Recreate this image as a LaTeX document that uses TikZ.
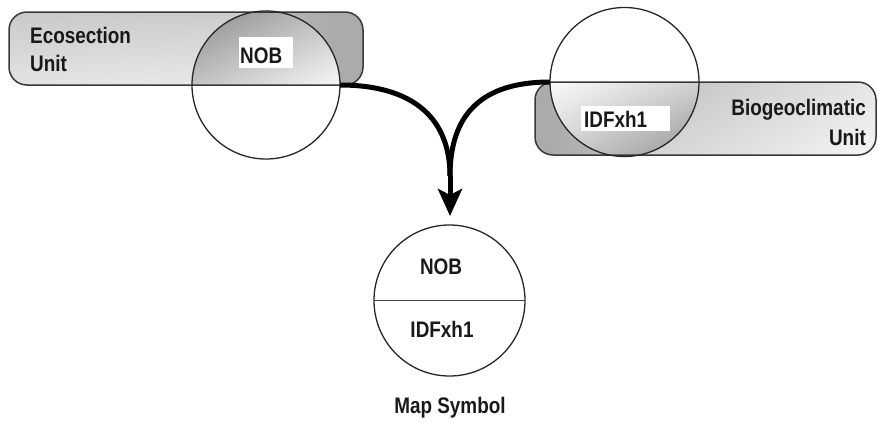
\documentclass[tikz,border=0pt]{standalone}
\usepackage{fontspec}
\usetikzlibrary{arrows.meta,shadings}
\newfontfamily\lblfont{Liberation Sans}[FakeStretch=0.84]

% horizontal base fills of the two unit bars
\pgfdeclarehorizontalshading{ecofill}{100bp}{color(0bp)=(black!16); color(25bp)=(black!16); color(51bp)=(black!20); color(66bp)=(black!30); color(71bp)=(black!33); color(100bp)=(black!33)}
\pgfdeclarehorizontalshading{bgcfill}{100bp}{color(0bp)=(black!33); color(27bp)=(black!33); color(32bp)=(black!30); color(49bp)=(black!22); color(75bp)=(black!6); color(100bp)=(black!6)}

\tikzset{
  lbl/.style={font=\lblfont\bfseries\fontsize{22.5}{28}\selectfont, inner sep=0pt, text=black!90},
  bar/.style={rectangle, rounded corners=18pt, inner sep=0pt, outer sep=0pt},
  barline/.style={draw=black!78, line width=1.5pt, rounded corners=18pt},
  ring/.style={circle, inner sep=0pt, outer sep=0pt},
  ringline/.style={draw=black!85, line width=1.3pt},
  tagbox/.style={fill=white, inner sep=0pt, outer sep=0pt},
  flow/.style={line width=5pt, black}
}

\begin{document}
\begin{tikzpicture}[x=1pt, y=-1pt]
\useasboundingbox (0,0) rectangle (878,421);

% circles and bars (placed first, drawn below)
\node[ring, minimum size=148pt] (ecoC) at (266,85) {};
\node[ring, minimum size=149pt] (bgcC) at (624.5,82) {};
\node[ring, minimum size=151pt] (mapC) at (449.5,300.5) {};

\node[bar, shade, shading=ecofill, minimum width=354pt, minimum height=73pt] (ecoR) at (186,48.5) {};
\node[bar, shade, shading=bgcfill, minimum width=341pt, minimum height=73pt] (bgcR) at (705.5,118.5) {};

% diagonal fill of the open part of each bar
\begin{scope}
  \clip[rounded corners=18pt] (ecoR.south west) rectangle (ecoR.north east);
  \shade[upper left=black!21, upper right=black!20, lower left=black!11, lower right=black!8]
    (ecoR.north west) rectangle (ecoC.center |- ecoR.south);
\end{scope}
\begin{scope}
  \clip[rounded corners=18pt] (bgcR.south west) rectangle (bgcR.north east);
  \shade[upper left=black!26, upper right=black!10, lower left=black!18, lower right=black!4]
    (bgcC.center |- bgcR.north) rectangle (bgcR.south east);
\end{scope}

% lens shading where circle and bar overlap
\begin{scope}
  \clip[rounded corners=18pt] (ecoR.south west) rectangle (ecoR.north east);
  \clip (ecoC.center) circle[radius=74pt];
  \shade[upper left=black!45, upper right=black!24, lower left=black!24, lower right=black!3]
    (ecoC.west |- ecoC.north) rectangle (ecoC.east);
\end{scope}
\begin{scope}
  \clip[rounded corners=18pt] (bgcR.south west) rectangle (bgcR.north east);
  \clip (bgcC.center) circle[radius=74.5pt];
  \shade[upper left=black!2, upper right=black!18, lower left=black!18, lower right=black!42]
    (bgcC.west) rectangle (bgcC.east |- bgcC.south);
\end{scope}

% outlines
\draw[barline] (ecoR.south west) rectangle (ecoR.north east);
\draw[barline] (bgcR.south west) rectangle (bgcR.north east);
\draw[ringline] (ecoC.center) circle[radius=74pt];
\draw[ringline] (bgcC.center) circle[radius=74.5pt];
\draw[ringline] (mapC.center) circle[radius=75.5pt];
\draw[draw=black!75, line width=1.5pt] (mapC.west) -- (mapC.east);

% white tag boxes
\node[tagbox, minimum width=54pt, minimum height=31pt] (nobBox) at (266,52.5) {};
\node[tagbox, minimum width=89pt, minimum height=25pt] (idfBox) at (625.5,118) {};

% labels
\node[lbl, align=left, anchor=north west] (ecoT) at (30,27.4) {Ecosection\\Unit};
\node[lbl, font=\lblfont\bfseries\fontsize{22.5}{30}\selectfont, align=right, anchor=north east] (bgcT) at (866,98.9) {Biogeoclimatic\\Unit};
\node[lbl, anchor=base west] (nobT) at (240,63.5) {NOB};
\node[lbl, anchor=base west] (idfT) at (584,127) {IDFxh1};
\node[lbl, anchor=base] (mapNob) at (441,274) {NOB};
\node[lbl, anchor=base] (mapIdf) at (442,337) {IDFxh1};
\node[lbl, anchor=base] (mapT) at (450,413.5) {Map Symbol};

% merging arrows
\coordinate (join) at (450,176);
\coordinate (tip) at (450,216);
\draw[flow] (ecoC.east) .. controls +(68,0) and +(0,-62) .. (join);
\draw[flow] (bgcC.west) .. controls +(-68,0) and +(0,-62) .. (join);
\draw[flow, -{Stealth[length=27pt, width=24pt, inset=6pt]}] (join) -- (tip);
\end{tikzpicture}
\end{document}
